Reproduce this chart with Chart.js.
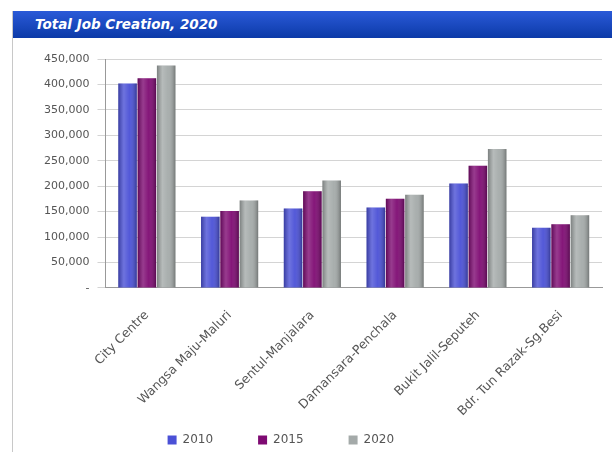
<!DOCTYPE html>
<html lang="en">
<head>
    <meta charset="UTF-8">
    <title>Total Job Creation, 2020</title>
    <script src="https://cdn.jsdelivr.net/npm/chart.js"></script>
    <style>
        body { margin: 0; background: #fff; }
        #frame { position: absolute; left: 12px; top: 11px; width: 600px; height: 441px;
                 border-left: 1px solid #c8c8c8; box-sizing: border-box; }
        #title { height: 27px; background: linear-gradient(#2a5ad8, #0c3aa8);
                 color: #fff; font: italic bold 13.5px "DejaVu Sans", sans-serif;
                 line-height: 27px; padding-left: 22px; }
        #wrap { position: absolute; left: 0; top: 27px; width: 599px; height: 414px; }
    </style>
</head>
<body>
    <div id="frame">
        <div id="title">Total Job Creation, 2020</div>
        <div id="wrap"><canvas id="jobChart"></canvas></div>
    </div>
    <script>
        var categories = ['City Centre', 'Wangsa Maju-Maluri', 'Sentul-Manjalara',
                          'Damansara-Penchala', 'Bukit Jalil-Seputeh', 'Bdr. Tun Razak-Sg.Besi'];
        var jobs2010 = [402000, 140000, 156000, 158000, 205000, 118000];
        var jobs2015 = [412000, 151000, 190000, 175000, 240000, 125000];
        var jobs2020 = [437000, 172000, 211000, 183000, 273000, 143000];

        // shading overlay so the bars look a bit like cylinders
        var shadePlugin = {
            id: 'shade',
            afterDatasetsDraw: function(chart) {
                var ctx = chart.ctx;
                chart.data.datasets.forEach(function(ds, i) {
                    chart.getDatasetMeta(i).data.forEach(function(bar) {
                        var x0 = bar.x - bar.width / 2, x1 = bar.x + bar.width / 2;
                        var g = ctx.createLinearGradient(x0, 0, x1, 0);
                        g.addColorStop(0, 'rgba(0,0,0,0.25)');
                        g.addColorStop(0.3, 'rgba(255,255,255,0.2)');
                        g.addColorStop(0.6, 'rgba(255,255,255,0.05)');
                        g.addColorStop(1, 'rgba(0,0,0,0.3)');
                        ctx.save();
                        ctx.fillStyle = g;
                        ctx.fillRect(x0, bar.y, bar.width, bar.base - bar.y);
                        ctx.restore();
                    });
                });
            }
        };

        var defaultLabels = Chart.defaults.plugins.legend.labels.generateLabels;

        var ctx = document.getElementById('jobChart').getContext('2d');
        new Chart(ctx, {
            type: 'bar',
            data: {
                labels: categories,
                datasets: [
                    { label: '2010', data: jobs2010, backgroundColor: '#4a50d6' },
                    { label: '2015', data: jobs2015, backgroundColor: '#7e0a72' },
                    { label: '2020', data: jobs2020, backgroundColor: '#a4aaa9' }
                ]
            },
            options: {
                responsive: true,
                maintainAspectRatio: false,
                animation: false,
                layout: { padding: { left: 23, right: 10, top: 21, bottom: -4 } },
                datasets: { bar: { categoryPercentage: 0.7, barPercentage: 0.96 } },
                plugins: {
                    legend: {
                        position: 'bottom',
                        labels: {
                            boxWidth: 9, boxHeight: 9, padding: 3, color: '#555',
                            font: { family: 'DejaVu Sans', size: 12 },
                            // trailing spaces widen the gap between entries,
                            // extra on the last one nudges the row left
                            generateLabels: function(chart) {
                                var items = defaultLabels(chart);
                                items.forEach(function(item, i) {
                                    item.text += '           ';
                                    if (i === items.length - 1) item.text += '         ';
                                });
                                return items;
                            }
                        }
                    },
                    tooltip: { enabled: false }
                },
                scales: {
                    x: {
                        grid: { display: false },
                        border: { color: '#999' },
                        ticks: { minRotation: 45, maxRotation: 45, color: '#555', padding: 12,
                                 font: { family: 'DejaVu Sans', size: 12.5 } }
                    },
                    y: {
                        min: 0, max: 450000,
                        border: { color: '#999' },
                        grid: { color: '#d4d4d4' },
                        ticks: {
                            stepSize: 50000, color: '#555', padding: 8,
                            font: { family: 'DejaVu Sans', size: 11 },
                            callback: function(v) { return v === 0 ? '-' : v.toLocaleString('en-US'); }
                        }
                    }
                }
            },
            plugins: [shadePlugin]
        });
    </script>
</body>
</html>
